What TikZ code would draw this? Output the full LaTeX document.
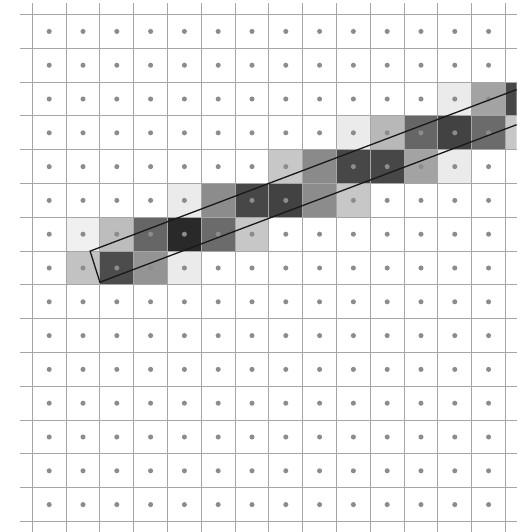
\documentclass[tikz,border=0pt]{standalone}
\begin{document}
\begin{tikzpicture}[x=1cm, y=1cm]
  \tikzset{gridline/.style={draw=black!35, line width=0.75pt},
           pixdot/.style={fill=black!45},
           bandline/.style={draw=black!90, line width=1.1pt, line join=miter}}
  \useasboundingbox (-0.956,-0.311) rectangle (14.518,15.43);
  % covered pixels, x/y of lower left corner and grey level
  \begin{scope}
    \clip (-1,-1) rectangle (14.33,16);
    \foreach \x/\y/\s in {1/7/24, 2/7/70, 3/7/42, 4/7/8,
                          1/8/6, 2/8/26, 3/8/60, 4/8/84, 5/8/58, 6/8/22,
                          4/9/8, 5/9/45, 6/9/72, 7/9/74, 8/9/45, 9/9/22,
                          7/10/22, 8/10/46, 9/10/72, 10/10/72, 11/10/36, 12/10/8,
                          9/11/8, 10/11/28, 11/11/60, 12/11/74, 13/11/58, 14/11/22,
                          12/12/8, 13/12/36, 14/12/72}
      \fill[black!\s] (\x,\y) rectangle ++(1,1);
  \end{scope}
  % grid
  \foreach \i in {0,...,14}
    \draw[gridline] (\i,-0.311) -- (\i,15.34);
  \foreach \j in {0,...,15}
    \draw[gridline] (-0.36,\j) -- (14.33,\j);
  % pixel centres
  \foreach \i in {0,...,13}
    \foreach \j in {0,...,14}
      \fill[pixdot] (\i+0.5,\j+0.5) circle (0.075);
  % the line as a thin rectangle
  \coordinate (ur) at (14.33,12.78);
  \coordinate (ul) at (1.71,8.0);
  \coordinate (ll) at (2.0,7.08);
  \coordinate (lr) at (14.33,11.74);
  \draw[bandline] (ur) -- (ul) -- (ll) -- (lr);
\end{tikzpicture}
\end{document}
